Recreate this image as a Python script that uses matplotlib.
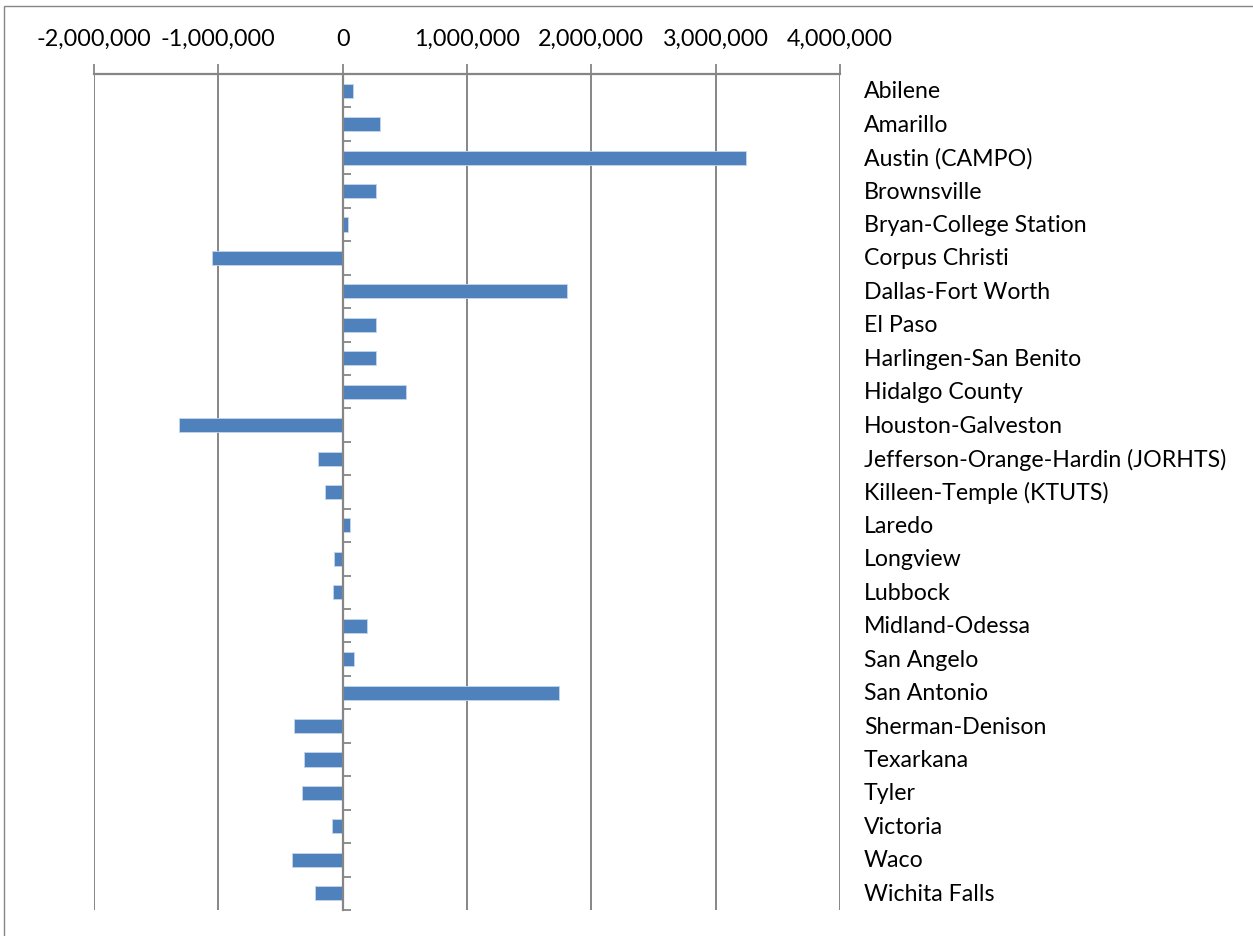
import numpy as np
import matplotlib
matplotlib.use("Agg")
import matplotlib.pyplot as plt
from matplotlib.ticker import FuncFormatter
from matplotlib.patches import Rectangle
import matplotlib.transforms as mtransforms

plt.rcParams['font.family'] = ['Lato', 'DejaVu Sans']

regions = ["Abilene", "Amarillo", "Austin (CAMPO)", "Brownsville",
           "Bryan-College Station", "Corpus Christi", "Dallas-Fort Worth",
           "El Paso", "Harlingen-San Benito", "Hidalgo County",
           "Houston-Galveston", "Jefferson-Orange-Hardin (JORHTS)",
           "Killeen-Temple (KTUTS)", "Laredo", "Longview", "Lubbock",
           "Midland-Odessa", "San Angelo", "San Antonio", "Sherman-Denison",
           "Texarkana", "Tyler", "Victoria", "Waco", "Wichita Falls"]
change = [83000, 298000, 3242000, 271000, 43000, -1048000, 1805000,
          271000, 271000, 512000, -1317000, -196000, -139000, 56000,
          -72000, -78000, 199000, 94000, 1740000, -389000, -311000,
          -330000, -86000, -408000, -220000]
xticks = [-2000000, -1000000, 0, 1000000, 2000000, 3000000, 4000000]

grey = "#868686"
blue = "#4F81BD"

fig = plt.figure(figsize=(12.53, 9.37), dpi=100)
ax = fig.add_axes([94/1253, 1 - 911/937, 746/1253, (911 - 75)/937])

y = np.arange(len(regions))
ax.barh(y, change, height=0.42, color=blue, edgecolor="#C6D6EA",
        linewidth=0.6, zorder=3)

ax.set_xlim(xticks[0], xticks[-1])
ax.set_ylim(len(regions) - 0.5, -0.5)

# x axis on top with vertical gridlines
ax.xaxis.set_ticks_position("top")
ax.xaxis.set_label_position("top")
ax.set_xticks(xticks)
ax.xaxis.set_major_formatter(FuncFormatter(lambda v, p: "{:,.0f}".format(v).replace("\u2212", "-")))
ax.tick_params(axis="x", direction="out", length=7.2, width=1.3, color=grey,
               labelsize=16.8, pad=11)
ax.grid(axis="x", color=grey, linewidth=1.4, zorder=0)

# y axis crossing at zero, ticks between categories
for s in ["right", "bottom"]:
    ax.spines[s].set_visible(False)
ax.spines["top"].set_color(grey)
ax.spines["top"].set_linewidth(1.6)
ax.spines["left"].set_position(("data", 0))
ax.spines["left"].set_color(grey)
ax.spines["left"].set_linewidth(1.6)
ax.spines["left"].set_zorder(4)
ax.set_yticks(np.arange(-0.5, len(regions)))
ax.set_yticklabels([])
ax.tick_params(axis="y", direction="in", length=6, width=1.3, color=grey)

# category names on the right
trans = mtransforms.blended_transform_factory(ax.transAxes, ax.transData)
for i, name in enumerate(regions):
    ax.text((864 - 94) / 746, i, name, transform=trans, ha="left",
            va="center", fontsize=16.7, color="black")

# chart area border
fig.patches.append(Rectangle((4/1253, -0.05), 1.2, 1.05 - 7/937,
                             transform=fig.transFigure, fill=False,
                             edgecolor=grey, linewidth=1.0))

fig.savefig("out.png", dpi=100)
